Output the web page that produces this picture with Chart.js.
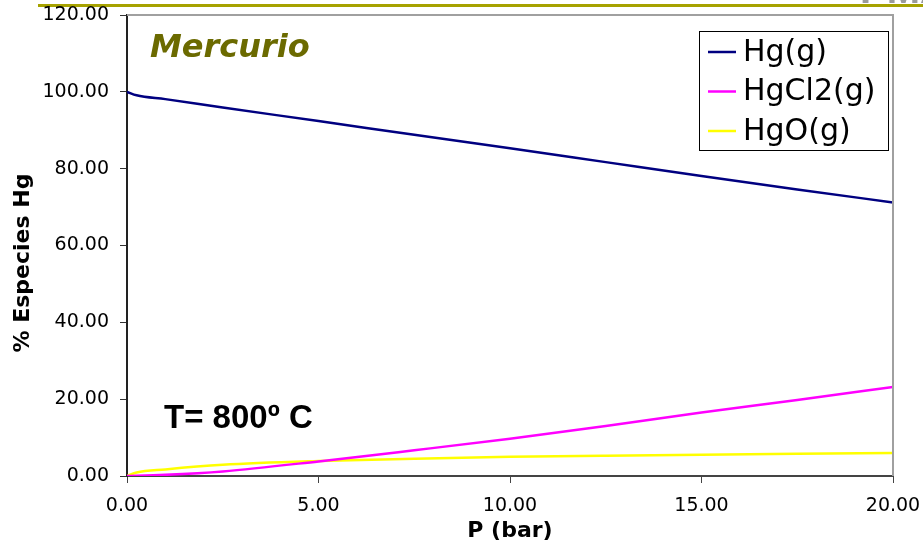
<!DOCTYPE html>
<html lang="es">
<head>
<meta charset="utf-8">
<title>Mercurio - especies Hg vs P</title>
<script src="https://cdn.jsdelivr.net/npm/chart.js@4.4.1/dist/chart.umd.min.js"></script>
<style>
    html, body { margin: 0; padding: 0; background: #ffffff; }
    canvas { display: block; }
</style>
</head>
<body>
<canvas id="chart" width="923" height="547"></canvas>
<script>
// Presión (bar) y % de cada especie de Hg
const pressure = [0, 0.25, 1, 2.5, 5, 7.5, 10, 12.5, 15, 17.5, 20];
const hgGas    = [100, 99.1, 98.1, 95.9, 92.4, 88.8, 85.3, 81.7, 78.1, 74.6, 71.2];
const hgCl2Gas = [0, 0.05, 0.3, 1.2, 3.8, 6.7, 9.7, 13.0, 16.5, 19.8, 23.2];
const hgOGas   = [0, 0.9, 1.7, 2.9, 3.9, 4.5, 5.0, 5.3, 5.5, 5.8, 6.0];

const seriesLabels = ['Hg(g)', 'HgCl2(g)', 'HgO(g)'];
const seriesColors = ['#000080', '#ff00ff', '#ffff00'];

const yTicks = [0, 20, 40, 60, 80, 100, 120];
const xTicks = [0, 5, 10, 15, 20];

function toPoints(values) {
    return values.map((v, i) => ({ x: pressure[i], y: v }));
}

// Texto y decoraciones de la diapositiva
const slideDecor = {
    id: 'slideDecor',
    beforeDraw(chart) {
        const ctx = chart.ctx;
        ctx.save();
        // título de la diapositiva cortado arriba a la derecha
        ctx.fillStyle = '#9a9a9a';
        ctx.font = 'bold 40px "Liberation Sans", Arial, sans-serif';
        ctx.textBaseline = 'alphabetic';
        ctx.textAlign = 'left';
        ctx.fillText('PMA', 860, 3);
        // línea oliva superior
        ctx.fillStyle = '#a6a200';
        ctx.fillRect(38, 4, 923 - 38, 3);
        ctx.restore();
    },
    afterDraw(chart) {
        const ctx = chart.ctx;
        const area = chart.chartArea;
        ctx.save();

        // borde gris superior y derecho del área
        ctx.strokeStyle = '#a0a0a0';
        ctx.lineWidth = 2;
        ctx.beginPath();
        ctx.moveTo(area.left, area.top);
        ctx.lineTo(area.right, area.top);
        ctx.lineTo(area.right, area.bottom);
        ctx.stroke();

        // Mercurio
        ctx.fillStyle = '#6b6a00';
        ctx.font = 'italic bold 32px "DejaVu Sans", sans-serif';
        ctx.textAlign = 'left';
        ctx.textBaseline = 'alphabetic';
        ctx.fillText('Mercurio', 150, 57);

        // T= 800º C
        ctx.fillStyle = '#000000';
        ctx.font = 'bold 33px "Liberation Sans", Arial, sans-serif';
        ctx.fillText('T= 800º C', 164, 428);

        // título eje Y
        ctx.save();
        ctx.translate(23, 263);
        ctx.rotate(-Math.PI / 2);
        ctx.textAlign = 'center';
        ctx.textBaseline = 'middle';
        ctx.font = 'bold 22px "DejaVu Sans", sans-serif';
        ctx.fillText('% Especies Hg', 0, 0);
        ctx.restore();

        // título eje X
        ctx.textAlign = 'center';
        ctx.textBaseline = 'middle';
        ctx.font = 'bold 22px "DejaVu Sans", sans-serif';
        ctx.fillText('P (bar)', (area.left + area.right) / 2, 531);

        // leyenda con marco
        const box = { x: 699, y: 31, w: 189, h: 119 };
        ctx.fillStyle = '#ffffff';
        ctx.fillRect(box.x, box.y, box.w, box.h);
        ctx.strokeStyle = '#000000';
        ctx.lineWidth = 1;
        ctx.strokeRect(box.x + 0.5, box.y + 0.5, box.w, box.h);
        ctx.font = '30px "DejaVu Sans", sans-serif';
        ctx.textAlign = 'left';
        ctx.textBaseline = 'middle';
        chart.data.datasets.forEach((ds, i) => {
            const cy = 52 + i * 39.5;
            ctx.strokeStyle = ds.borderColor;
            ctx.lineWidth = 2.5;
            ctx.beginPath();
            ctx.moveTo(708, cy);
            ctx.lineTo(736, cy);
            ctx.stroke();
            ctx.fillStyle = '#000000';
            ctx.fillText(ds.label, 743, cy + 1);
        });

        ctx.restore();
    }
};

const datasets = [hgGas, hgCl2Gas, hgOGas].map((vals, i) => ({
    label: seriesLabels[i],
    data: toPoints(vals),
    borderColor: seriesColors[i],
    backgroundColor: seriesColors[i],
    borderWidth: 2.5,
    pointRadius: 0,
    cubicInterpolationMode: 'monotone',
    fill: false
}));

new Chart(document.getElementById('chart'), {
    type: 'line',
    data: { datasets },
    options: {
        responsive: false,
        animation: false,
        layout: { padding: { left: 0, top: 15, right: 30, bottom: 0 } },
        plugins: {
            legend: { display: false },
            tooltip: { enabled: false }
        },
        scales: {
            x: {
                type: 'linear',
                min: 0,
                max: 20,
                afterFit: (scale) => {
                    scale.height = 71;
                    scale.paddingLeft = 0;
                    scale.paddingRight = 0;
                },
                afterBuildTicks: (scale) => { scale.ticks = xTicks.map(v => ({ value: v })); },
                border: { color: '#444444', width: 2 },
                grid: { drawOnChartArea: false, drawTicks: true, tickLength: 7, color: '#444444' },
                ticks: {
                    color: '#000000',
                    padding: 12,
                    maxRotation: 0,
                    font: { family: '"DejaVu Sans", sans-serif', size: 19 },
                    callback: (v) => Number(v).toFixed(2)
                }
            },
            y: {
                min: 0,
                max: 120,
                afterFit: (scale) => {
                    scale.width = 127;
                    scale.paddingTop = 0;
                    scale.paddingBottom = 0;
                },
                afterBuildTicks: (scale) => { scale.ticks = yTicks.map(v => ({ value: v })); },
                border: { color: '#222222', width: 2 },
                grid: { drawOnChartArea: false, drawTicks: true, tickLength: 7, color: '#333333' },
                ticks: {
                    color: '#000000',
                    padding: 11,
                    font: { family: '"DejaVu Sans", sans-serif', size: 19 },
                    callback: (v) => Number(v).toFixed(2)
                }
            }
        }
    },
    plugins: [slideDecor]
});
</script>
</body>
</html>
